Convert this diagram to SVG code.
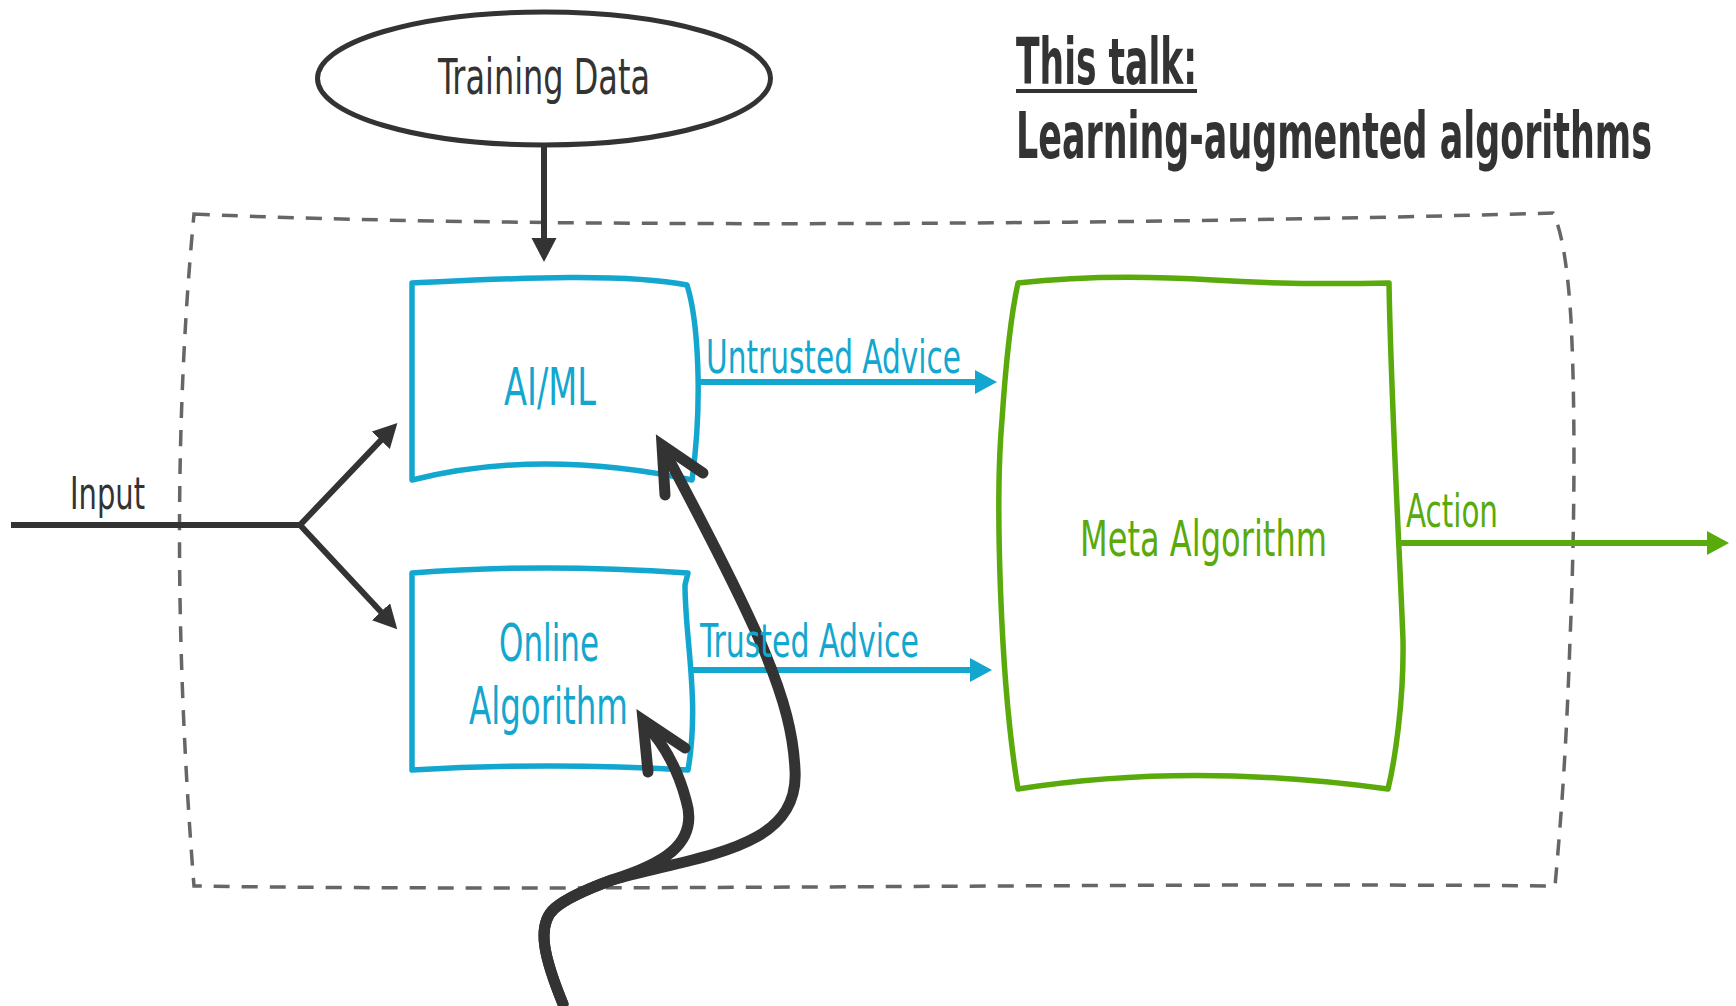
<svg xmlns="http://www.w3.org/2000/svg" width="1736" height="1006" viewBox="0 0 1736 1006">
<style>
.t{font-family:"Liberation Sans Narrow","DejaVu Sans Condensed","Liberation Sans",sans-serif;}
.dark{fill:#333333;}
.blue{fill:#13a7d0;}
.green{fill:#5aaa0b;}
.bx{fill:none;stroke-width:5.5;stroke-linejoin:round;stroke-linecap:round;}
.conn{fill:none;stroke-width:6;}
.big{fill:none;stroke:#333333;stroke-width:11;stroke-linecap:round;stroke-linejoin:miter;}
</style>
<defs>
<marker id="ahDark" markerUnits="userSpaceOnUse" markerWidth="26" markerHeight="26" refX="1" refY="12.5" orient="auto"><path d="M0,0 L24,12.5 L0,25 Z" fill="#333333"/></marker>
<marker id="ahBlue" markerUnits="userSpaceOnUse" markerWidth="24" markerHeight="26" refX="1" refY="12" orient="auto"><path d="M0,0 L22,12 L0,24 Z" fill="#13a7d0"/></marker>
<marker id="ahGreen" markerUnits="userSpaceOnUse" markerWidth="24" markerHeight="26" refX="1" refY="12" orient="auto"><path d="M0,0 L22,12 L0,24 Z" fill="#5aaa0b"/></marker>
</defs>
<rect width="1736" height="1006" fill="#ffffff"/>

<g id="boundary">
<path d="M194,214 C 500,228 1100,226 1553,213 C 1562,230 1568,270 1571,320 C 1576,420 1574,550 1570,640 C 1566,760 1560,830 1555,886 C 1100,882 600,892 194,886 Q 165,520 194,214 Z" fill="none" stroke="#666666" stroke-width="3.5" stroke-dasharray="16 12"/>
</g>

<g id="title">
<text class="t dark" x="1016" y="84" font-size="64" font-weight="bold" textLength="181" lengthAdjust="spacingAndGlyphs">This talk:</text>
<rect x="1016" y="89" width="181" height="4" fill="#333333"/>
<text class="t dark" transform="translate(1016,158) scale(0.65,1)" x="0" y="0" font-size="64" font-weight="bold" textLength="978.5" lengthAdjust="spacingAndGlyphs">Learning-augmented algorithms</text>
</g>

<g id="training-data">
<ellipse cx="544" cy="78.5" rx="226.5" ry="66.5" fill="none" stroke="#333333" stroke-width="5"/>
<text class="t dark" x="438" y="94" font-size="50" textLength="212" lengthAdjust="spacingAndGlyphs">Training Data</text>
</g>

<g id="ai-ml">
<path class="bx" stroke="#13a7d0" d="M412,283 C 500,279 620,272 687,285 C 698,320 703,400 692,480 Q 540,448 412,480 Z"/>
<text class="t blue" x="504" y="405" font-size="52" textLength="92" lengthAdjust="spacingAndGlyphs">AI/ML</text>
</g>

<g id="online-algorithm">
<path class="bx" stroke="#13a7d0" d="M412,573 Q 540,563 688,573 L 685,585 C 685,640 700,700 688,770 Q 550,762 412,770 Z"/>
<text class="t blue" x="499" y="661" font-size="52" textLength="100" lengthAdjust="spacingAndGlyphs">Online</text>
<text class="t blue" x="469" y="724" font-size="52" textLength="159" lengthAdjust="spacingAndGlyphs">Algorithm</text>
</g>

<g id="meta-algorithm">
<path class="bx" stroke="#5aaa0b" d="M1018,283 C 1080,276 1150,276 1213,280 S 1340,284 1389,283 C 1391,400 1400,560 1403,640 C 1404,700 1395,760 1388,789 Q 1190,762 1018,789 C 1000,680 995,500 1002,420 C 1006,360 1012,310 1018,283 Z"/>
<text class="t green" x="1080" y="556" font-size="50" textLength="247" lengthAdjust="spacingAndGlyphs">Meta Algorithm</text>
</g>

<g id="connectors">
<line class="conn" stroke="#333333" x1="544" y1="145" x2="544" y2="239" marker-end="url(#ahDark)"/>
<path class="conn" stroke="#333333" stroke-width="7" d="M11,525 L300,525 L381.5,439.6" marker-end="url(#ahDark)"/>
<path class="conn" stroke="#333333" stroke-width="7" d="M300,525 L381.6,612.5" marker-end="url(#ahDark)"/>
<line class="conn" stroke="#13a7d0" x1="700" y1="382" x2="976" y2="382" marker-end="url(#ahBlue)"/>
<line class="conn" stroke="#13a7d0" x1="693" y1="670" x2="971" y2="670" marker-end="url(#ahBlue)"/>
<line class="conn" stroke="#5aaa0b" x1="1400" y1="543" x2="1708" y2="543" marker-end="url(#ahGreen)"/>
<path class="big" d="M563,1004 C 545,960 535,925 555,908 C 568,897 590,888 612,880 C 700,855 800,850 795,770 C 792,700 760,630 664,450"/>
<path class="big" d="M665,495 L662,445 L703,473"/>
<path class="big" d="M563,1004 C 545,960 535,925 555,908 C 568,897 590,888 612,880 C 660,865 700,845 686,800 C 678,770 665,745 645,724"/>
<path class="big" d="M648,772 L643,720 L685,748"/>
<text class="t dark" x="70" y="509" font-size="45" textLength="75" lengthAdjust="spacingAndGlyphs">Input</text>
<text class="t blue" x="706" y="373" font-size="47" textLength="255" lengthAdjust="spacingAndGlyphs">Untrusted Advice</text>
<text class="t blue" x="700" y="657" font-size="47" textLength="219" lengthAdjust="spacingAndGlyphs">Trusted Advice</text>
<text class="t green" x="1406" y="527" font-size="47" textLength="92" lengthAdjust="spacingAndGlyphs">Action</text>
</g>
</svg>
